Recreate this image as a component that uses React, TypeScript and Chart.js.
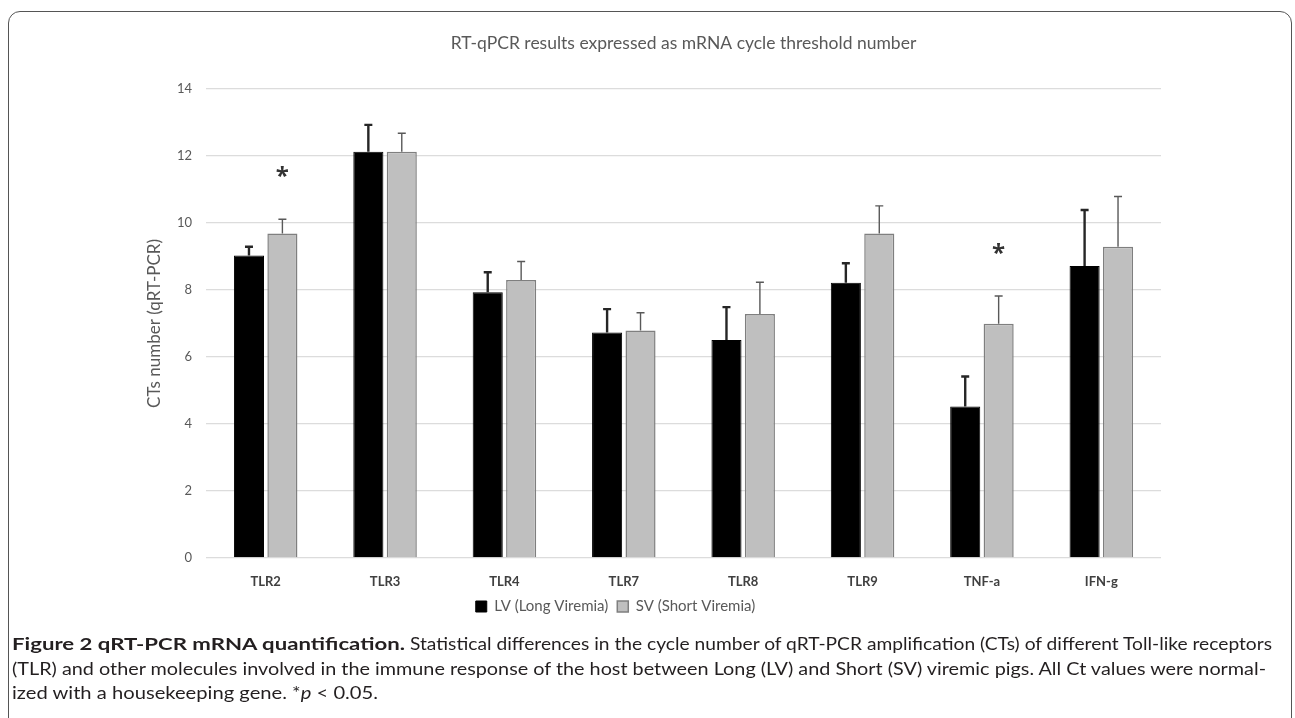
import React, { useEffect, useRef } from "react";
import { Chart, registerables } from "chart.js";

Chart.register(...registerables);

const chartTitle = "RT-qPCR results expressed as mRNA cycle threshold number";
const yAxisTitle = "CTs number (qRT-PCR)";
const categories = ["TLR2", "TLR3", "TLR4", "TLR7", "TLR8", "TLR9", "TNF-a", "IFN-g"];
const seriesNames = ["LV (Long Viremia)", "SV (Short Viremia)"];
const lvMeans = [9.03, 12.13, 7.93, 6.73, 6.51, 8.22, 4.52, 8.72];
const lvErrors = [0.26, 0.8, 0.6, 0.7, 0.98, 0.58, 0.9, 1.67];
const svMeans = [9.69, 12.13, 8.3, 6.79, 7.28, 9.69, 6.99, 9.29];
const svErrors = [0.42, 0.55, 0.55, 0.53, 0.95, 0.82, 0.83, 1.5];
const svSignificant = [true, false, false, false, false, false, true, false];
const yMin = 0;
const yMax = 14;
const yStep = 2;

const FONT = "Lato, 'Open Sans', sans-serif";

const errorBarPlugin = {
  id: "errorBars",
  afterDatasetsDraw(chart: any) {
    const { ctx } = chart;
    const y = chart.scales.y;
    chart.data.datasets.forEach((ds: any, di: number) => {
      const meta = chart.getDatasetMeta(di);
      meta.data.forEach((bar: any, i: number) => {
        const top = y.getPixelForValue(ds.data[i] + ds.errors[i]);
        ctx.save();
        ctx.strokeStyle = ds.errorColor;
        ctx.lineWidth = ds.errorWidth;
        ctx.beginPath();
        ctx.moveTo(bar.x, bar.y);
        ctx.lineTo(bar.x, top);
        ctx.moveTo(bar.x - 4, top);
        ctx.lineTo(bar.x + 4, top);
        ctx.stroke();
        ctx.restore();
      });
    });
  },
};

const starPlugin = {
  id: "significance",
  afterDatasetsDraw(chart: any) {
    const { ctx } = chart;
    const y = chart.scales.y;
    const meta = chart.getDatasetMeta(1);
    const ds = chart.data.datasets[1];
    meta.data.forEach((bar: any, i: number) => {
      if (!svSignificant[i]) return;
      const top = y.getPixelForValue(ds.data[i] + ds.errors[i]);
      ctx.save();
      ctx.fillStyle = "#333333";
      ctx.font = `bold 24px 'Open Sans', sans-serif`;
      ctx.textAlign = "center";
      ctx.textBaseline = "alphabetic";
      ctx.fillText("*", bar.x, top - 49 + 14);
      ctx.restore();
    });
  },
};

function ChartCanvas() {
  const ref = useRef<HTMLCanvasElement | null>(null);
  useEffect(() => {
    if (!ref.current) return;
    const chart = new Chart(ref.current, {
      type: "bar",
      data: {
        labels: categories,
        datasets: [
          {
            label: seriesNames[0],
            data: lvMeans,
            errors: lvErrors,
            errorColor: "#262626",
            errorWidth: 2.4,
            backgroundColor: "#000000",
            borderColor: "#000000",
            borderWidth: 1,
            categoryPercentage: 0.56,
            barPercentage: 0.9,
          } as any,
          {
            label: seriesNames[1],
            data: svMeans,
            errors: svErrors,
            errorColor: "#595959",
            errorWidth: 1.4,
            backgroundColor: "#bfbfbf",
            borderColor: "#7f7f7f",
            borderWidth: 1.5,
            categoryPercentage: 0.56,
            barPercentage: 0.9,
          } as any,
        ],
      },
      options: {
        animation: false,
        responsive: false,
        maintainAspectRatio: false,
        layout: { padding: { left: 70, right: 134, top: 0, bottom: 16 } },
        plugins: {
          title: {
            display: true,
            fullSize: false,
            text: chartTitle,
            color: "#595959",
            font: { family: FONT, size: 17.5, weight: "normal" },
            padding: { top: 32.5, bottom: 35.5 },
          },
          legend: {
            display: true,
            position: "bottom",
            labels: {
              color: "#595959",
              font: { family: FONT, size: 15 },
              boxWidth: 11,
              boxHeight: 11,
              padding: 9,
            },
          },
          tooltip: { enabled: false },
        },
        scales: {
          x: {
            grid: { display: false, drawTicks: false },
            border: { display: false },
            ticks: {
              color: "#404040",
              font: { family: FONT, size: 13, weight: "bold" },
              padding: 16.5,
            },
            afterFit: (scale: any) => {
              scale.height = 32;
            },
          },
          y: {
            min: yMin,
            max: yMax,
            grid: { color: "#dcdcdc", lineWidth: 1.3, drawTicks: false },
            border: { display: false },
            ticks: {
              stepSize: yStep,
              color: "#595959",
              font: { family: FONT, size: 13 },
              padding: 14,
            },
            title: {
              display: true,
              text: yAxisTitle,
              color: "#595959",
              font: { family: FONT, size: 17 },
              padding: { top: 74.8, bottom: 0 },
            },
            afterFit: (scale: any) => {
              scale.width = 136;
            },
          },
        },
      } as any,
      plugins: [errorBarPlugin, starPlugin],
    });
    return () => chart.destroy();
  }, []);
  return (
    <canvas
      ref={ref}
      width={1295}
      height={640}
      style={{ position: "absolute", left: 0, top: 0, width: 1295, height: 640 }}
    />
  );
}

export default function App() {
  const capFont = "Lato, 'Open Sans', sans-serif";
  return (
    <div
      style={{
        position: "fixed",
        left: 0,
        top: 0,
        width: 1295,
        height: 718,
        background: "#ffffff",
        overflow: "hidden",
      }}
    >
      <div
        style={{
          position: "absolute",
          left: 8,
          top: 11,
          width: 1282,
          height: 800,
          border: "1.5px solid #555555",
          borderRadius: 12,
        }}
      />
      <ChartCanvas />
      <svg
        width={1295}
        height={90}
        style={{ position: "absolute", left: 0, top: 628 }}
      >
        <text
          x={12}
          y={22}
          fontFamily={capFont}
          fontSize={17}
          fontWeight="bold"
          fill="#231f20"
          textLength={393}
          lengthAdjust="spacingAndGlyphs"
        >
          Figure 2  qRT-PCR mRNA quantification.
        </text>
        <text
          x={410}
          y={22}
          fontFamily={capFont}
          fontSize={17}
          fill="#231f20"
          textLength={862}
          lengthAdjust="spacingAndGlyphs"
        >
          Statistical differences in the cycle number of qRT-PCR amplification (CTs) of different Toll-like receptors
        </text>
        <text
          x={12}
          y={47}
          fontFamily={capFont}
          fontSize={17}
          fill="#231f20"
          textLength={1254}
          lengthAdjust="spacingAndGlyphs"
        >
          (TLR) and other molecules involved in the immune response of the host between Long (LV) and Short (SV) viremic pigs. All Ct values were normal-
        </text>
        <text
          x={12}
          y={71}
          fontFamily={capFont}
          fontSize={17}
          fill="#231f20"
          textLength={366}
          lengthAdjust="spacingAndGlyphs"
        >
          ized with a housekeeping gene. *<tspan fontStyle="italic">p</tspan> &lt; 0.05.
        </text>
      </svg>
    </div>
  );
}
